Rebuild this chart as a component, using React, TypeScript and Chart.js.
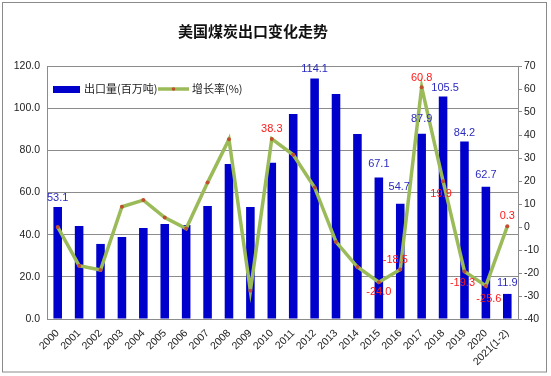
import React, { useEffect, useRef } from 'react';
import { Chart, registerables } from 'chart.js';

Chart.register(...registerables);

const TITLE = '美国煤炭出口变化走势';
const years = ['2000', '2001', '2002', '2003', '2004', '2005', '2006', '2007', '2008', '2009', '2010', '2011', '2012', '2013', '2014', '2015', '2016', '2017', '2018', '2019', '2020', '2021(1-2)'];
const exportVolume = [53.1, 44.1, 35.6, 38.9, 43.2, 45.1, 44.6, 53.6, 73.5, 53.1, 74.1, 97.2, 114.1, 106.7, 87.8, 67.1, 54.7, 87.9, 105.5, 84.2, 62.7, 11.9];
const growthRate = [0, -16.8, -18.7, 8.8, 11.7, 4.1, -0.7, 19.3, 38.1, -27.7, 38.3, 31.4, 17.2, -6.5, -17.4, -24.0, -18.5, 60.8, 19.9, -19.3, -25.6, 0.3];
const volumeLabelIdx = [0, 12, 15, 16, 17, 18, 19, 20, 21];
const rateLabelIdx = [10, 15, 16, 17, 18, 19, 20, 21];
const volumeName = '出口量(百万吨)';
const rateName = '增长率(%)';

const BAR_COLOR = '#0000cc';
const LINE_COLOR = '#9bbb59';
const POINT_COLOR = '#c0502d';
const GRID = '#8c8c8c';
const TICK_FONT = { family: '"Liberation Sans", Arial, sans-serif', size: 10.5 };

// label offsets (style, not data)
const volOffset: Record<number, [number, number]> = {
  0: [0, -9], 12: [0, -9], 15: [0, -14], 16: [-1, -17], 17: [0, -15], 18: [2, -9], 19: [0, -9], 20: [0, -12], 21: [0, -11],
};
const rateOffset: Record<number, [number, number]> = {
  10: [0, -10], 15: [0, 10], 16: [-5, -10], 17: [0, -9], 18: [-2, 13], 19: [-2, 12], 20: [3, 13], 21: [0, -10],
};

const decorPlugin = {
  id: 'decor',
  beforeDraw(chart: any) {
    const ctx = chart.ctx;
    ctx.save();
    ctx.fillStyle = '#ffffff';
    ctx.fillRect(0, 0, chart.width, chart.height);
    ctx.strokeStyle = '#8a8a8a';
    ctx.lineWidth = 1;
    ctx.strokeRect(2.5, 2.5, 544, 369.5);
    ctx.restore();
  },
  afterDatasetsDraw(chart: any) {
    const ctx = chart.ctx;
    ctx.save();
    ctx.font = '11px "Liberation Sans", Arial, sans-serif';
    ctx.textAlign = 'center';
    ctx.textBaseline = 'middle';
    const barMeta = chart.getDatasetMeta(1);
    ctx.fillStyle = '#2b2bc0';
    volumeLabelIdx.forEach((i) => {
      const el = barMeta.data[i];
      const [dx, dy] = volOffset[i] || [0, -9];
      ctx.fillText(exportVolume[i].toFixed(1), el.x + dx, el.y + dy);
    });
    const lineMeta = chart.getDatasetMeta(0);
    ctx.fillStyle = '#ff1a1a';
    rateLabelIdx.forEach((i) => {
      const el = lineMeta.data[i];
      const [dx, dy] = rateOffset[i] || [0, -10];
      ctx.fillText(growthRate[i].toFixed(1), el.x + dx, el.y + dy);
    });
    ctx.restore();
  },
  afterDraw(chart: any) {
    const ctx = chart.ctx;
    ctx.save();
    // title
    ctx.fillStyle = '#111';
    ctx.font = 'bold 15px "Noto Sans CJK SC", sans-serif';
    ctx.textAlign = 'center';
    ctx.textBaseline = 'middle';
    ctx.fillText(TITLE, 253, 31);
    // legend
    const ly = 89;
    ctx.fillStyle = BAR_COLOR;
    ctx.fillRect(53, ly - 3, 27, 7);
    ctx.font = '11px "Noto Sans CJK SC", sans-serif';
    ctx.textAlign = 'left';
    ctx.fillStyle = '#222';
    ctx.fillText(volumeName, 84, ly);
    ctx.strokeStyle = LINE_COLOR;
    ctx.lineWidth = 3.5;
    ctx.beginPath();
    ctx.moveTo(158, ly);
    ctx.lineTo(189, ly);
    ctx.stroke();
    ctx.fillStyle = POINT_COLOR;
    ctx.beginPath();
    ctx.arc(173.5, ly, 1.8, 0, Math.PI * 2);
    ctx.fill();
    ctx.fillStyle = '#222';
    ctx.fillText(rateName, 192, ly);
    ctx.restore();
  },
};

export default function App() {
  const ref = useRef<HTMLCanvasElement>(null);
  useEffect(() => {
    if (!ref.current) return;
    const chart = new Chart(ref.current, {
      type: 'bar',
      data: {
        labels: years,
        datasets: [
          {
            type: 'line',
            label: rateName,
            data: growthRate,
            yAxisID: 'y1',
            borderColor: LINE_COLOR,
            borderWidth: 3.5,
            pointRadius: 2,
            pointBackgroundColor: POINT_COLOR,
            pointBorderWidth: 0,
            tension: 0,
            order: 0,
          } as any,
          {
            type: 'bar',
            label: volumeName,
            data: exportVolume,
            yAxisID: 'y',
            backgroundColor: BAR_COLOR,
            barPercentage: 0.4,
            categoryPercentage: 1,
            order: 1,
          },
        ],
      },
      options: {
        animation: false,
        responsive: true,
        maintainAspectRatio: false,
        layout: { padding: { top: 66, left: 0, right: 0, bottom: 0 } },
        plugins: { legend: { display: false }, tooltip: { enabled: false }, title: { display: false } },
        scales: {
          x: {
            grid: { display: false, drawTicks: false },
            border: { color: GRID },
            ticks: { color: '#222', font: TICK_FONT, maxRotation: 45, minRotation: 45, autoSkip: false, padding: 8 },
            afterFit: (s: any) => { s.height = 57; },
          },
          y: {
            position: 'left',
            min: 0,
            max: 120,
            grid: { color: GRID, drawTicks: false },
            border: { color: GRID },
            ticks: { stepSize: 20, color: '#222', font: TICK_FONT, padding: 7, callback: (v: any) => Number(v).toFixed(1) },
            afterFit: (s: any) => { s.width = 47; },
          },
          y1: {
            position: 'right',
            min: -40,
            max: 70,
            grid: { drawOnChartArea: false, color: GRID, tickLength: 4 },
            border: { color: GRID },
            ticks: { stepSize: 10, color: '#222', font: TICK_FONT, padding: 2 },
            afterFit: (s: any) => { s.width = 33; },
          },
        },
      },
      plugins: [decorPlugin],
    });
    return () => chart.destroy();
  }, []);
  return (
    <div style={{ position: 'absolute', left: 0, top: 0, width: 551, height: 376 }}>
      <canvas ref={ref} />
    </div>
  );
}
